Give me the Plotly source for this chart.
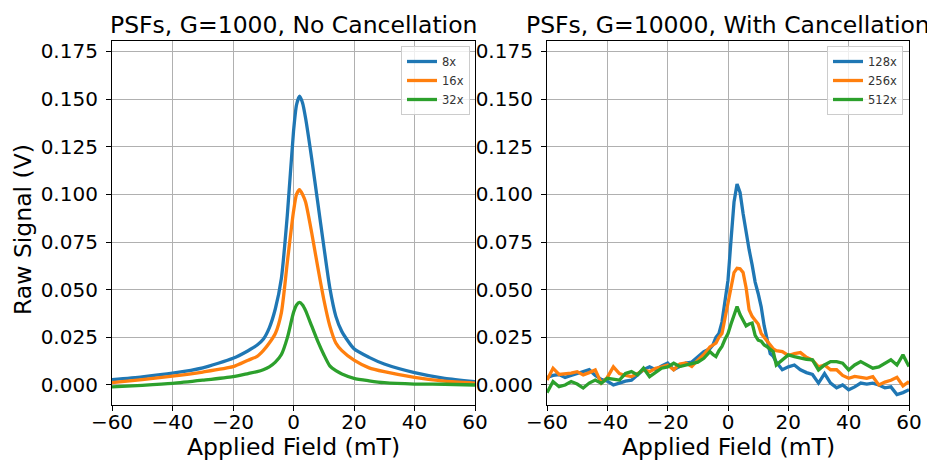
import plotly.graph_objects as go

# field values (mT) for the no-cancellation sweeps
field_left = [-60, -50, -40, -30, -20, -15, -12, -10, -8, -6, -4, -2, 0, 1, 2, 3, 4,
              6, 8, 10, 12, 14, 16, 20, 25, 30, 40, 50, 60]
sig_8x = [0.0028, 0.0043, 0.0062, 0.0090, 0.0140, 0.018, 0.021, 0.024, 0.030, 0.040,
          0.056, 0.090, 0.133, 0.147, 0.1515, 0.148, 0.140, 0.119, 0.096, 0.073,
          0.051, 0.036, 0.028, 0.019, 0.0145, 0.011, 0.0065, 0.0035, 0.0018]
sig_16x = [0.0012, 0.0028, 0.0046, 0.0068, 0.0096, 0.013, 0.015, 0.018, 0.022, 0.027,
           0.038, 0.065, 0.091, 0.100, 0.1025, 0.100, 0.096, 0.080, 0.062, 0.045,
           0.031, 0.022, 0.018, 0.013, 0.009, 0.007, 0.004, 0.002, 0.001]
sig_32x = [-0.001, -0.0002, 0.0008, 0.0025, 0.0044, 0.006, 0.007, 0.008, 0.0095, 0.012,
           0.016, 0.025, 0.038, 0.042, 0.0433, 0.042, 0.039, 0.031, 0.023, 0.016,
           0.010, 0.0075, 0.0058, 0.0035, 0.0022, 0.0012, 0.0005, 0.0004, 0.0]

# field values (mT) for the cancellation sweeps
field_right = [-60, -58, -56, -54, -52, -50, -48, -46, -44, -42, -40, -38, -36, -34,
               -32, -30, -28, -26, -24, -22, -20, -18, -16, -14, -12, -10, -8, -6,
               -5, -4, -3, -2, -1, 0, 1, 2, 3, 4, 5, 6, 7, 8, 9, 10, 11, 12, 13, 14,
               15, 16, 18, 20, 22, 24, 26, 28, 30, 32, 34, 36, 38, 40, 42, 44, 46, 48,
               50, 52, 54, 56, 58, 60]
sig_128x = [0.004, 0.005, 0.0055, 0.004, 0.005, 0.006, 0.007, 0.008, 0.005, 0.003,
            0.002, 0.0, 0.001, 0.002, 0.0025, 0.005, 0.008, 0.0095, 0.008, 0.010,
            0.0115, 0.008, 0.010, 0.0115, 0.012, 0.015, 0.0175, 0.019,
            0.021, 0.025, 0.027, 0.033, 0.043, 0.055, 0.076, 0.096, 0.1055, 0.101,
            0.090, 0.079, 0.071, 0.063, 0.054, 0.048, 0.041, 0.031, 0.023, 0.0165,
            0.015, 0.012, 0.008, 0.0095, 0.0105, 0.008, 0.0065, 0.0055, 0.001, 0.006,
            0.001, -0.0015, 0.0, -0.0025, -0.001, 0.001, 0.0005, 0.001, 0.0, -0.0015,
            -0.001, -0.005, -0.004, -0.0025]
sig_256x = [0.0026, 0.0088, 0.0055, 0.0058, 0.0062, 0.007, 0.0053, 0.0065, 0.0079,
            0.001, 0.004, 0.0095, 0.006, 0.005, 0.0044, 0.006, 0.0079, 0.007, 0.0088,
            0.0095, 0.0105, 0.008, 0.011, 0.0115, 0.0097, 0.013, 0.016, 0.020,
            0.021, 0.022, 0.025, 0.027, 0.035, 0.043, 0.052, 0.059, 0.0612, 0.061,
            0.059, 0.051, 0.0395, 0.036, 0.034, 0.032, 0.027, 0.025, 0.023, 0.021,
            0.019, 0.018, 0.0175, 0.0155, 0.0165, 0.017, 0.0145, 0.013, 0.0095,
            0.0105, 0.008, 0.008, 0.005, 0.0035, 0.0045, 0.004, 0.0035, 0.0044, 0.0,
            0.0015, 0.0025, 0.004, -0.0005, 0.0018]
sig_512x = [-0.004, 0.0018, -0.0009, 0.0, 0.0018, 0.0005, -0.0016, 0.001, 0.0026,
            0.0009, 0.0035, 0.003, 0.0026, 0.006, 0.007, 0.0053, 0.0088, 0.0044,
            0.0065, 0.0088, 0.0095, 0.0114, 0.0097, 0.0105, 0.0114, 0.012, 0.014,
            0.0175, 0.016, 0.0149, 0.018, 0.0202, 0.024, 0.027, 0.032, 0.037, 0.0412,
            0.037, 0.034, 0.031, 0.032, 0.0325, 0.026, 0.0235, 0.023, 0.021, 0.020,
            0.019, 0.0175, 0.0105, 0.013, 0.0158, 0.0149, 0.014, 0.0135, 0.0132,
            0.0079, 0.0105, 0.0123, 0.0123, 0.0114, 0.0079, 0.0105, 0.0123, 0.0105,
            0.0088, 0.0095, 0.0114, 0.0132, 0.0105, 0.0158, 0.0097]

colors = ['#1f77b4', '#ff7f0e', '#2ca02c']
font = 'DejaVu Sans'

fig = go.Figure()

# left panel
for name, y, c in zip(['8x', '16x', '32x'], [sig_8x, sig_16x, sig_32x], colors):
    fig.add_trace(go.Scatter(x=field_left, y=y, name=name, mode='lines',
                             line=dict(color=c, width=3.3, shape='spline', smoothing=0.6),
                             xaxis='x', yaxis='y', legend='legend'))

# right panel
for name, y, c in zip(['128x', '256x', '512x'], [sig_128x, sig_256x, sig_512x], colors):
    fig.add_trace(go.Scatter(x=field_right, y=y, name=name, mode='lines',
                             line=dict(color=c, width=3.3),
                             xaxis='x2', yaxis='y2', legend='legend2'))

# page body has an 8px margin, so the figure is drawn 8px smaller and positions shifted
OFF = 8
W, H = 935 - OFF, 461 - OFF


def px(x):
    return (x - OFF) / W


def py(y):
    return 1 - (y - OFF) / H


ax_common = dict(showline=True, linecolor='black', linewidth=1.2, mirror=True,
                 ticks='outside', ticklen=5, tickcolor='black', showgrid=True,
                 gridcolor='#b0b0b0', gridwidth=1, zeroline=False, automargin=False,
                 tickfont=dict(family=font, size=20, color='black'))
xdom1 = [px(112), px(475)]
xdom2 = [px(547), px(909)]
ydom = [py(405), py(41)]
xt = dict(range=[-60, 60], tickvals=[-60, -40, -20, 0, 20, 40, 60], ticklabelstandoff=-6)
yt = dict(range=[-0.0105, 0.1805], tickvals=[0, 0.025, 0.05, 0.075, 0.1, 0.125, 0.15, 0.175],
          tickformat='.3f', ticklabelstandoff=4)

legend_common = dict(bgcolor='rgba(255,255,255,0.8)', bordercolor='#cccccc', borderwidth=1,
                     font=dict(family=font, size=11.5, color='#333'), xanchor='right',
                     yanchor='top', tracegroupgap=0, itemwidth=30)

fig.update_layout(
    width=W, height=H, margin=dict(l=0, r=0, t=0, b=0),
    paper_bgcolor='white', plot_bgcolor='white',
    xaxis=dict(domain=xdom1, anchor='y', **xt, **ax_common),
    yaxis=dict(domain=ydom, anchor='x', **yt, **ax_common),
    xaxis2=dict(domain=xdom2, anchor='y2', **xt, **ax_common),
    yaxis2=dict(domain=ydom, anchor='x2', **yt, **ax_common),
    legend=dict(x=px(470), y=py(46), **legend_common),
    legend2=dict(x=px(903), y=py(46), **legend_common),
)

ann_font = dict(family=font, size=23.5, color='black')
anns = [
    ('PSFs, G=1000, No Cancellation', px(293.5), py(25), 0),
    ('PSFs, G=10000, With Cancellation', px(728), py(25), 0),
    ('Applied Field (mT)', px(293.5), py(447), 0),
    ('Applied Field (mT)', px(728), py(447), 0),
    ('Raw Signal (V)', px(23), py(230), -90),
]
for text, x, y, ang in anns:
    fig.add_annotation(text=text, x=x, y=y, xref='paper', yref='paper', showarrow=False,
                       xanchor='center', yanchor='middle', textangle=ang, font=ann_font)

fig.write_html("out.html")
